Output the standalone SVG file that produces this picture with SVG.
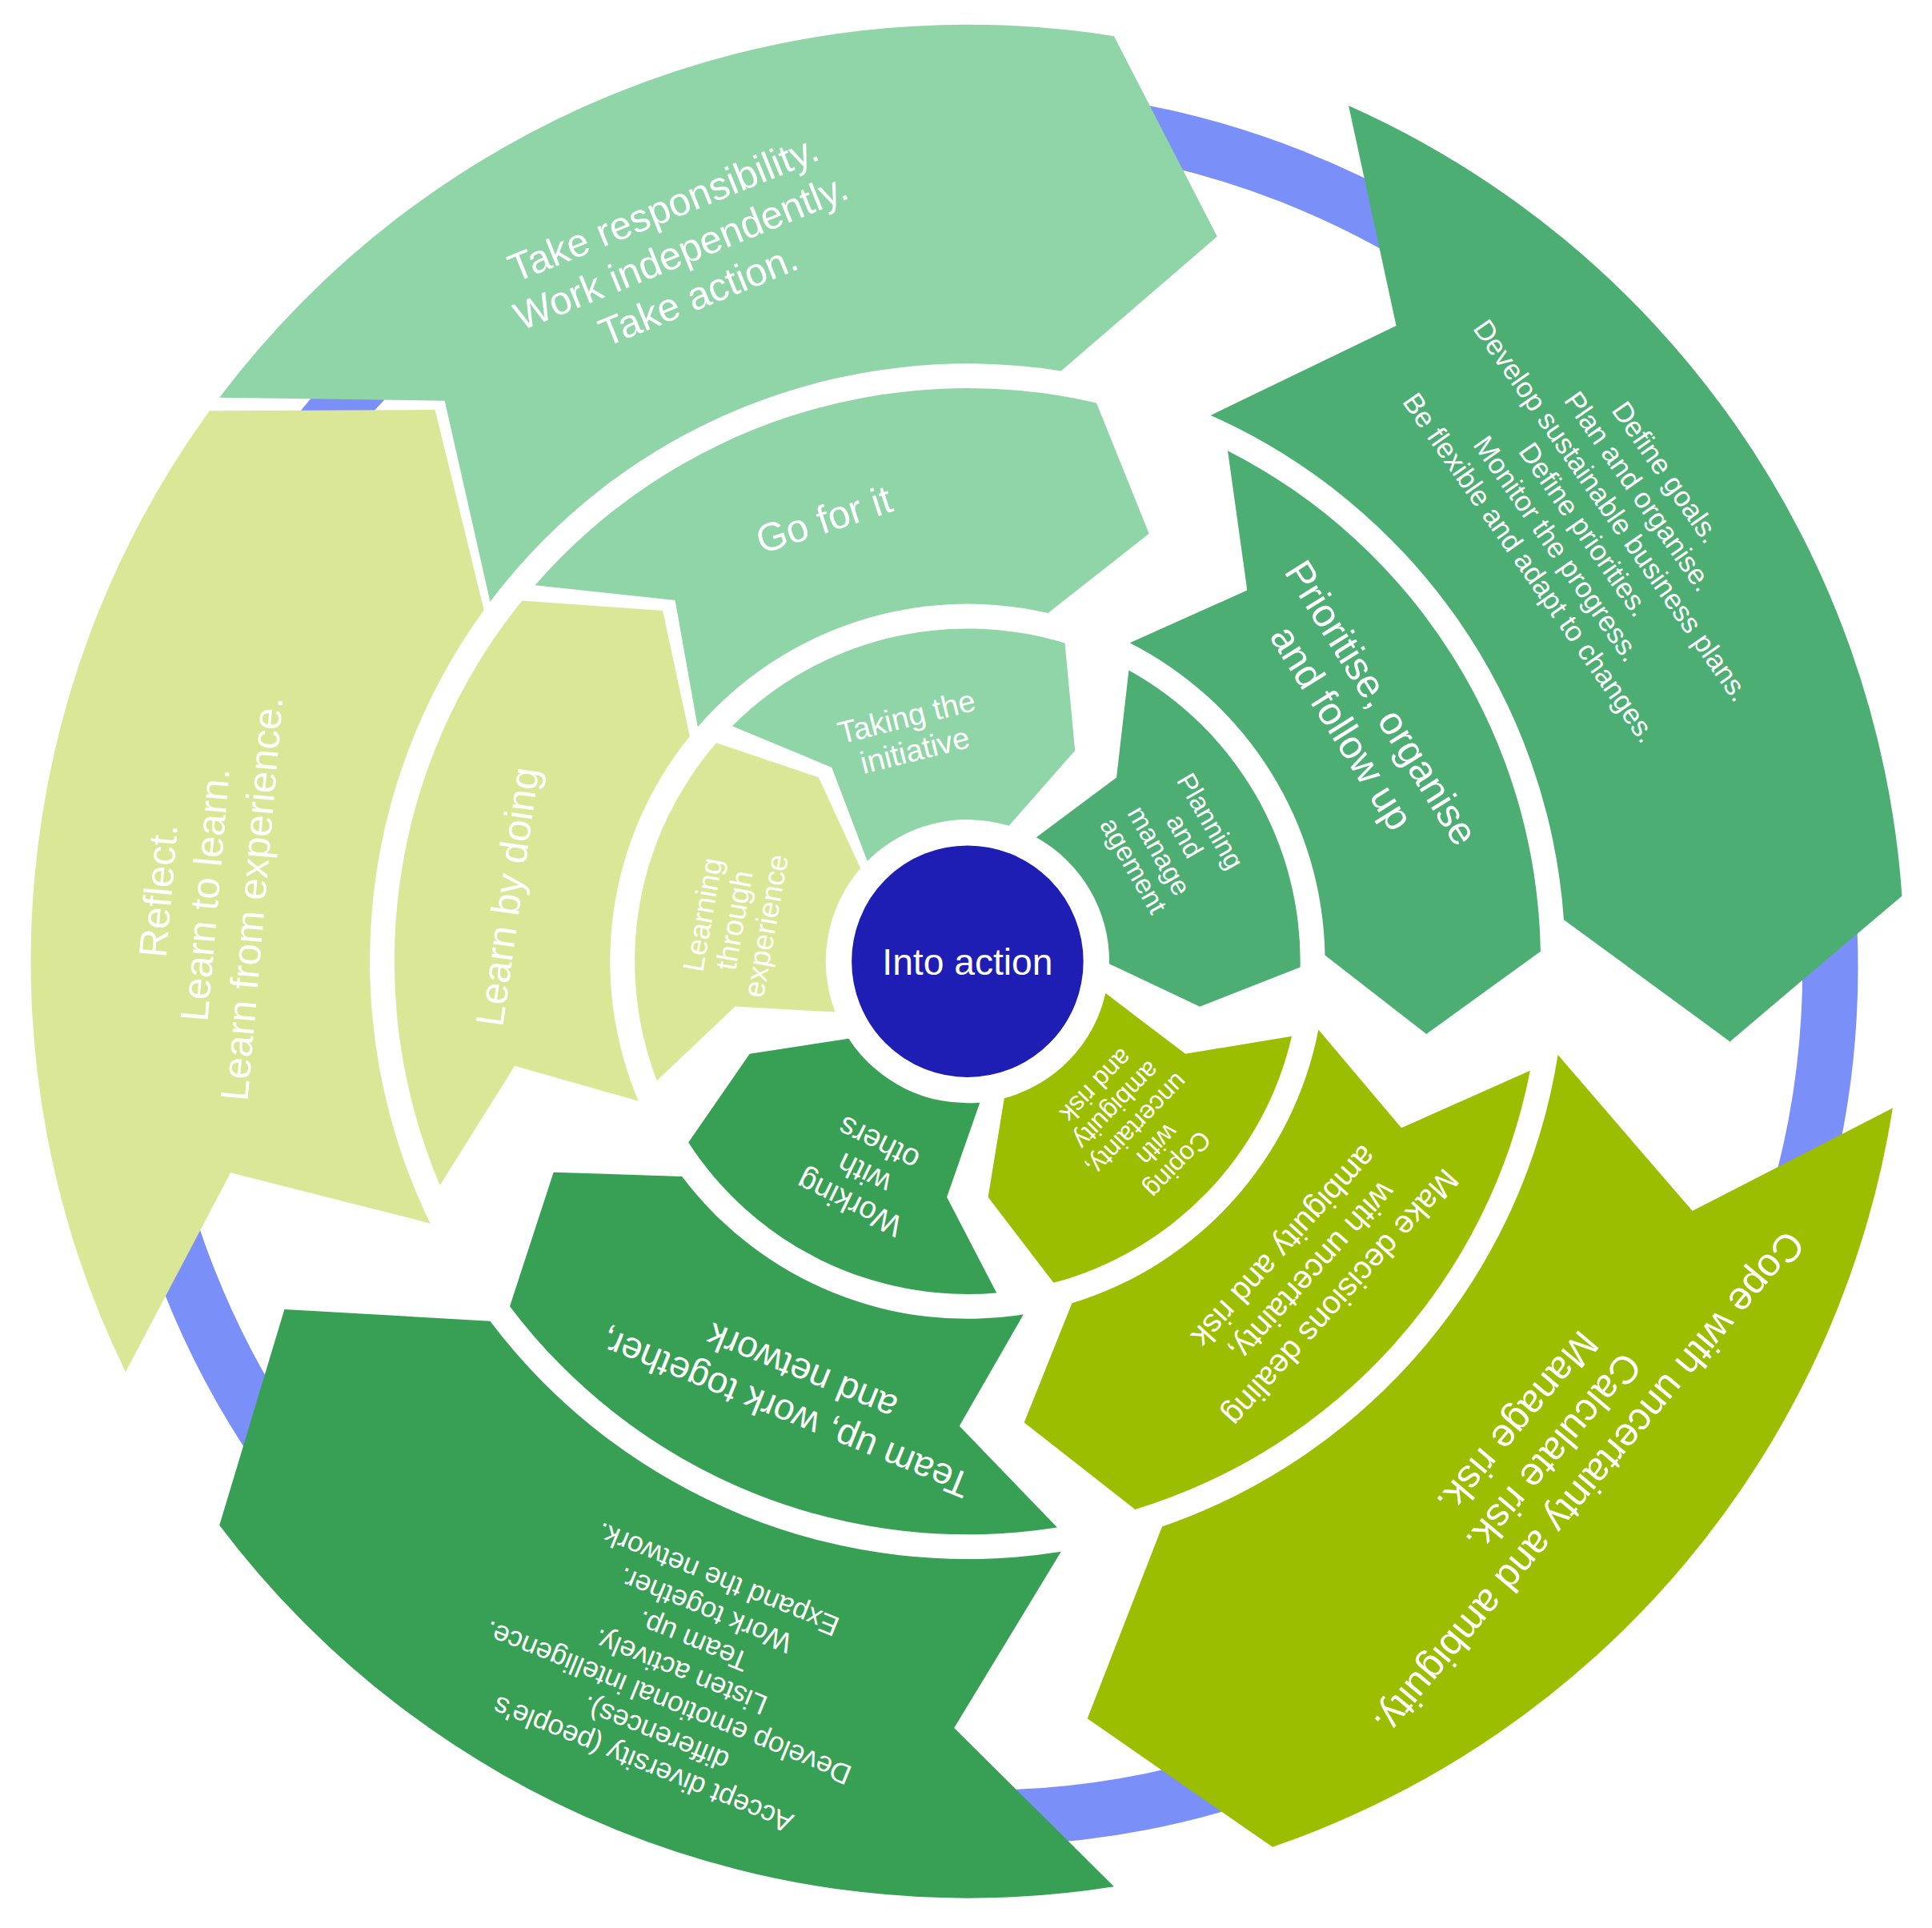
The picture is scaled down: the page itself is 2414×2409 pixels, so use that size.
<svg xmlns="http://www.w3.org/2000/svg" xmlns:xlink="http://www.w3.org/1999/xlink" width="2414" height="2409" viewBox="0 0 2414 2409">
<style>
.t{font-family:"Liberation Sans",Arial,sans-serif;fill:#fff;text-anchor:middle}
.c1{fill:#90D5A8}.c2{fill:#4DAE74}.c3{fill:#9BBE00}.c4{fill:#38A055}.c5{fill:#DAE797}
</style>
<defs>
<path id="inner" d="M231.4,-139.1 A270,270 0 0 1 231.4,139.1 L144.9,126 L98.6,59.2 A115,115 0 0 0 98.6,-59.2 L179.3,-68.8 Z"/>
<path id="middle" d="M398.6,-239.5 A465,465 0 0 1 398.6,239.5 L284.5,247.3 L248.6,149.4 A290,290 0 0 0 248.6,-149.4 L352,-135.1 Z"/>
<path id="outer" d="M651.5,-391.4 A760,760 0 0 1 651.5,391.4 L469.4,408.1 L415.7,249.8 A485,485 0 0 0 415.7,-249.8 L580.7,-222.9 Z"/>
</defs>
<rect width="2414" height="2409" fill="#fff"/>
<g transform="scale(1.54)">
<circle cx="795" cy="785" r="690" fill="none" stroke="#7B8FF8" stroke-width="45"/>
<g id="outer-light" transform="translate(785 780) rotate(-112)"><use href="#outer" class="c1"/>
<text class="t" font-size="32" transform="translate(622 0) rotate(90)"><tspan x="0" y="-26">Take responsibility.</tspan><tspan x="0" y="12">Work independently.</tspan><tspan x="0" y="50">Take action.</tspan></text></g>
<g id="outer-dark" transform="translate(785 780) rotate(-35)"><use href="#outer" class="c2"/>
<text class="t" font-size="23" transform="translate(622 0) rotate(90)"><tspan x="0" y="-62">Define goals.</tspan><tspan x="0" y="-35">Plan and organise.</tspan><tspan x="0" y="-8">Develop sustainable business plans.</tspan><tspan x="0" y="19">Define priorities.</tspan><tspan x="0" y="46">Monitor the progress.</tspan><tspan x="0" y="73">Be flexible and adapt to changes.</tspan></text></g>
<g id="outer-yellow" transform="translate(785 780) rotate(40)"><use href="#outer" class="c3"/>
<text class="t" font-size="32" transform="translate(622 0) rotate(90)"><tspan x="0" y="-26">Cope with uncertainty and ambiguity.</tspan><tspan x="0" y="12">Calculate risk.</tspan><tspan x="0" y="50">Manage risk.</tspan></text></g>
<g id="outer-green" transform="translate(785 780) rotate(112)"><use href="#outer" class="c4"/>
<text class="t" font-size="23" transform="translate(622 0) rotate(90)"><tspan x="0" y="-73">Accept diversity (people's</tspan><tspan x="0" y="-46">differences).</tspan><tspan x="0" y="-19">Develop emotional intelligence.</tspan><tspan x="0" y="8">Listen actively.</tspan><tspan x="0" y="35">Team up.</tspan><tspan x="0" y="62">Work together.</tspan><tspan x="0" y="89">Expand the network.</tspan></text></g>
<g id="outer-pale" transform="translate(785 780) rotate(185)"><use href="#outer" class="c5"/>
<text class="t" font-size="32" transform="translate(622 0) rotate(90)"><tspan x="0" y="-26">Reflect.</tspan><tspan x="0" y="12">Learn to learn.</tspan><tspan x="0" y="50">Learn from experience.</tspan></text></g>

<g id="mid-light" transform="translate(785 780) rotate(-108)"><use href="#middle" class="c1"/>
<text class="t" font-size="32" transform="translate(377 0) rotate(90)"><tspan x="0" y="11">Go for it</tspan></text></g>
<g id="mid-dark" transform="translate(785 780) rotate(-32)"><use href="#middle" class="c2"/>
<text class="t" font-size="32" transform="translate(377 0) rotate(90)"><tspan x="0" y="-8">Prioritise, organise</tspan><tspan x="0" y="30">and follow up</tspan></text></g>
<g id="mid-yellow" transform="translate(785 780) rotate(42)"><use href="#middle" class="c3"/>
<text class="t" font-size="26" transform="translate(377 0) rotate(90)"><tspan x="0" y="-22">Make decisions dealing</tspan><tspan x="0" y="9">with uncertainty,</tspan><tspan x="0" y="40">ambiguity and risk</tspan></text></g>
<g id="mid-green" transform="translate(785 780) rotate(112)"><use href="#middle" class="c4"/>
<text class="t" font-size="30" transform="translate(377 0) rotate(90)"><tspan x="0" y="-8">Team up, work together,</tspan><tspan x="0" y="28">and network</tspan></text></g>
<g id="mid-pale" transform="translate(785 780) rotate(188)"><use href="#middle" class="c5"/>
<text class="t" font-size="32" transform="translate(377 0) rotate(90)"><tspan x="0" y="11">Learn by doing</tspan></text></g>

<g id="in-light" transform="translate(785 780) rotate(-104)"><use href="#inner" class="c1"/>
<text class="t" font-size="25" transform="translate(192 0) rotate(90)"><tspan x="0" y="-4">Taking the</tspan><tspan x="0" y="24">initiative</tspan></text></g>
<g id="in-dark" transform="translate(785 780) rotate(-30)"><use href="#inner" class="c2"/>
<text class="t" font-size="22" transform="translate(192 0) rotate(90)"><tspan x="0" y="-28">Planning</tspan><tspan x="0" y="-4">and</tspan><tspan x="0" y="20">manage</tspan><tspan x="0" y="44">agement</tspan></text></g>
<g id="in-yellow" transform="translate(785 780) rotate(44)"><use href="#inner" class="c3"/>
<text class="t" font-size="21" transform="translate(192 0) rotate(90)"><tspan x="0" y="-38">Coping</tspan><tspan x="0" y="-15">with</tspan><tspan x="0" y="8">uncertainty,</tspan><tspan x="0" y="31">ambiguity</tspan><tspan x="0" y="54">and risk</tspan></text></g>
<g id="in-green" transform="translate(785 780) rotate(116)"><use href="#inner" class="c4"/>
<text class="t" font-size="25" transform="translate(192 0) rotate(90)"><tspan x="0" y="-18">Working</tspan><tspan x="0" y="9">with</tspan><tspan x="0" y="36">others</tspan></text></g>
<g id="in-pale" transform="translate(785 780) rotate(190)"><use href="#inner" class="c5"/>
<text class="t" font-size="24" transform="translate(192 0) rotate(90)"><tspan x="0" y="-18">Learning</tspan><tspan x="0" y="8">through</tspan><tspan x="0" y="34">experience</tspan></text></g>

<g id="center"><circle cx="785" cy="780" r="100" fill="#1E1EB4" stroke="#fff" stroke-width="12"/>
<text class="t" font-size="30" x="785" y="791">Into action</text></g>
</g>
</svg>
